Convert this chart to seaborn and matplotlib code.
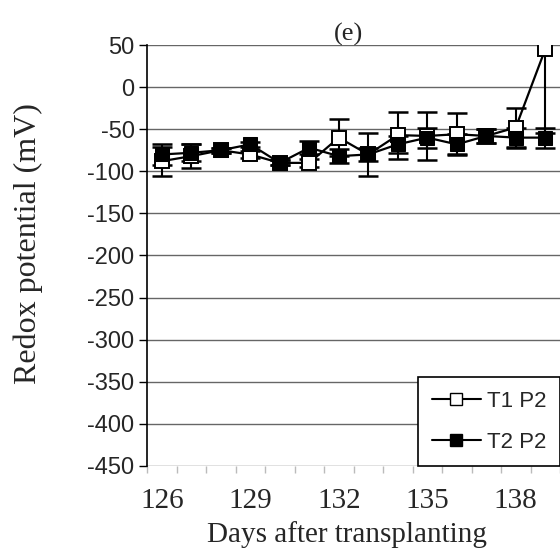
import numpy as np
import pandas as pd
import matplotlib
matplotlib.use("Agg")
import matplotlib.pyplot as plt
import seaborn as sns
from matplotlib.lines import Line2D

days = [126, 127, 128, 129, 130, 131, 132, 133, 134, 135, 136, 137, 138, 139]
t1_mean = [-88, -82, -75, -80, -90, -90, -60, -80, -57, -58, -56, -58, -48, 45]
t1_err = [17, 14, 3, 4, 3, 5, 22, 25, 28, 29, 25, 8, 23, 100]
t2_mean = [-80, -78, -75, -68, -90, -72, -82, -80, -68, -60, -68, -58, -60, -60]
t2_err = [12, 10, 3, 3, 3, 8, 8, 8, 10, 12, 12, 8, 12, 12]
series_names = ["T1 P2", "T2 P2"]
y_ticks = list(range(50, -451, -50))
x_tick_labels = [126, 129, 132, 135, 138]

sns.set_theme(style="white")
sans = "Liberation Sans"
serif = "Liberation Serif"
plt.rcParams["font.family"] = [serif, "DejaVu Serif"]

df = pd.DataFrame({
    "day": days * 2,
    "mV": t1_mean + t2_mean,
    "series": [series_names[0]] * len(days) + [series_names[1]] * len(days),
})

fig = plt.figure(figsize=(5.60, 5.58), dpi=100)
ax = fig.add_axes([147 / 560, 1 - 466 / 558, 1 - 147 / 560, (466 - 45) / 558])

# error bars
ax.errorbar(days, t1_mean, yerr=t1_err, fmt="none", ecolor="black",
            elinewidth=1.5, capsize=7, capthick=1.8, zorder=2)
ax.errorbar(days, t2_mean, yerr=t2_err, fmt="none", ecolor="black",
            elinewidth=1.5, capsize=7, capthick=1.8, zorder=2)

sns.lineplot(data=df, x="day", y="mV", hue="series", style="series",
             palette={series_names[0]: "black", series_names[1]: "black"},
             markers={series_names[0]: "s", series_names[1]: "s"},
             dashes=False, linewidth=1.6, markersize=10, ax=ax, zorder=3,
             legend=False)
lines = ax.get_lines()
lines[-2].set_markerfacecolor("white")
lines[-2].set_markeredgecolor("black")
lines[-2].set_markeredgewidth(1.4)
lines[-1].set_markerfacecolor("black")
lines[-1].set_markeredgecolor("black")

ax.set_xlim(125.5, 139.5)
ax.set_ylim(-450, 50)
ax.set_yticks(y_ticks)
ax.set_yticklabels([str(v) for v in y_ticks], fontfamily=sans, fontsize=17)
ax.set_xticks(x_tick_labels)
ax.set_xticklabels([str(v) for v in x_tick_labels], fontsize=21)
ax.set_xticks(np.arange(125.5, 140, 1), minor=True)
ax.tick_params(axis="x", which="major", length=0, pad=16)
ax.tick_params(axis="x", which="minor", length=5, color="#bbbbbb", width=1, direction="out", bottom=True)
ax.tick_params(axis="y", which="major", length=6, color="black", width=1, direction="out", left=True, pad=3)

ax.yaxis.grid(True, color="#666666", linewidth=1)
ax.xaxis.grid(False)
ax.set_axisbelow(True)
for s in ["top", "right", "bottom"]:
    ax.spines[s].set_visible(False)
ax.spines["left"].set_color("black")
ax.spines["left"].set_linewidth(1.2)

ax.set_xlabel("Days after transplanting", fontsize=21)
ax.xaxis.label.set_va("top")
ax.xaxis.set_label_coords(0.484, -0.131)
ax.set_ylabel("Redox potential (mV)", fontsize=23)
ax.yaxis.label.set_va("center")
ax.yaxis.set_label_coords(-0.288, 0.528)
ax.set_title("(e)", fontsize=19, pad=3, x=0.487)

handles = [
    Line2D([], [], color="black", marker="s", markerfacecolor="white", markeredgecolor="black", markersize=8, linewidth=1.5),
    Line2D([], [], color="black", marker="s", markerfacecolor="black", markersize=9, linewidth=1.5),
]
leg = ax.legend(handles, series_names, loc="lower right", bbox_to_anchor=(1.0, 0.0),
                prop={"family": sans, "size": 16}, frameon=True, fancybox=False,
                edgecolor="black", framealpha=1, borderpad=0.6, labelspacing=0.9,
                handlelength=2.2, handletextpad=0.3, borderaxespad=0)
leg.get_frame().set_linewidth(1.2)

fig.savefig("out.png", dpi=100)
